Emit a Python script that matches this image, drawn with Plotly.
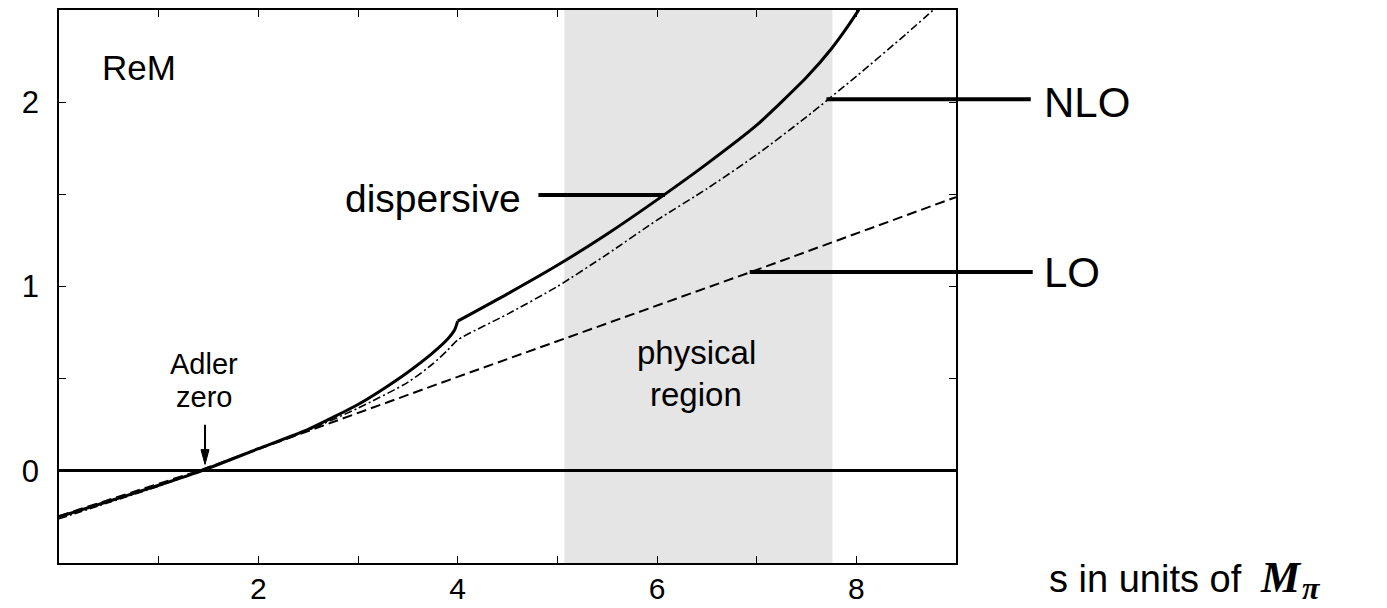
import plotly.graph_objects as go

# ---- data ----
s_disp_below = [0.0, 0.5, 1.0, 1.43, 2.0, 2.5, 3.0, 3.25, 3.5, 3.75, 3.9, 3.97, 4.0]
rem_disp_below = [-0.25, -0.165, -0.078, 0.0, 0.12, 0.225, 0.36, 0.443, 0.535, 0.64, 0.715, 0.765, 0.812]
s_disp_above = [4.0, 4.5, 5.0, 5.5, 6.0, 6.5, 7.0, 7.5, 7.75, 8.0, 8.1]
rem_disp_above = [0.812, 0.96, 1.115, 1.285, 1.47, 1.665, 1.875, 2.135, 2.29, 2.48, 2.57]

s_nlo = [0.0, 0.5, 1.0, 1.43, 2.0, 2.5, 3.0, 3.5, 3.75, 3.9, 4.0, 4.5, 5.0, 5.5, 6.0, 6.5, 7.0, 7.5, 8.0, 8.5, 9.0]
rem_nlo = [-0.26, -0.172, -0.083, 0.0, 0.12, 0.22, 0.34, 0.48, 0.58, 0.655, 0.71, 0.85, 1.0, 1.175, 1.36, 1.53, 1.715, 1.92, 2.14, 2.37, 2.61]

s_lo = [0.0, 1.4, 4.0, 7.0, 9.0]
rem_lo = [-0.245, 0.0, 0.51, 1.09, 1.485]

phys_region = [5.07, 7.76]
adler_zero_s = 1.465

x_tickvals = [2, 4, 6, 8]
x_ticktext = ["2", "4", "6", "8"]
x_minor_tickvals = [1, 3, 5, 7]
y_tickvals = [0, 1, 2]
y_ticktext = ["0", "1", "2"]
y_minor_tickvals = [0.5, 1.5]

XR = [0, 9]
YR = [-0.5, 2.5]
FONT = "Liberation Sans, Arial, sans-serif"
SERIF = "Liberation Serif, DejaVu Serif, serif"

# plot box in pixels (margins)
ML, MR, MT, MB, W, H = 59, 431, 10, 45, 1387, 608
PW, PH = W - ML - MR, H - MT - MB


def px_x(v):
    return (v - XR[0]) / (XR[1] - XR[0])


def px_y(v):
    return (v - YR[0]) / (YR[1] - YR[0])


def pap_x(px):
    return (px - ML) / PW


def pap_y(py):
    return (H - MB - py) / PH


fig = go.Figure()

fig.add_trace(go.Scatter(x=s_lo, y=rem_lo, mode="lines",
                         line=dict(color="black", width=2, dash="10px,5px"),
                         showlegend=False))
fig.add_trace(go.Scatter(x=s_nlo, y=rem_nlo, mode="lines", line_shape="spline",
                         line=dict(color="black", width=1.6, dash="8px,3px,2px,3px", smoothing=0.6),
                         showlegend=False))
fig.add_trace(go.Scatter(x=s_disp_below, y=rem_disp_below, mode="lines", line_shape="spline",
                         line=dict(color="black", width=3, smoothing=0.6), showlegend=False))
fig.add_trace(go.Scatter(x=s_disp_above, y=rem_disp_above, mode="lines", line_shape="spline",
                         line=dict(color="black", width=3, smoothing=0.6), showlegend=False))

# physical region
fig.add_shape(type="rect", xref="x", yref="y", x0=phys_region[0], x1=phys_region[1],
              y0=YR[0], y1=YR[1], fillcolor="#e5e5e5", line=dict(width=0), layer="below")

# label lines (paper coords so they can leave the plot box)
label_lines = [
    (4.81, 6.08, 1.497),
    (7.70, 9.75, 2.016),
    (6.93, 9.77, 1.078),
]
for x0, x1, yv in label_lines:
    fig.add_shape(type="line", xref="paper", yref="paper",
                  x0=px_x(x0), x1=px_x(x1), y0=px_y(yv), y1=px_y(yv),
                  line=dict(color="black", width=4))

# Adler-zero arrow: shaft + head
fig.add_shape(type="line", xref="x", yref="y", x0=adler_zero_s, x1=adler_zero_s,
              y0=0.25, y1=0.10, line=dict(color="black", width=2))
hw = 0.04
fig.add_shape(type="path", xref="x", yref="y",
              path=f"M {adler_zero_s - hw} 0.115 L {adler_zero_s + hw} 0.115 L {adler_zero_s} 0.035 Z",
              fillcolor="black", line=dict(color="black", width=1))


def txt(x, y, text, size, xanchor="center", xref="x", yref="y", family=FONT):
    fig.add_annotation(x=x, y=y, xref=xref, yref=yref, text=text, showarrow=False,
                       xanchor=xanchor, yanchor="middle",
                       font=dict(family=family, size=size, color="black"))


txt(0.80, 2.19, "ReM", 35)
txt(4.66, 1.48, "dispersive", 39, xanchor="right")
txt(1.455, 0.578, "Adler", 29)
txt(1.455, 0.403, "zero", 29)
txt(6.40, 0.643, "physical", 33)
txt(6.39, 0.415, "region", 33)
txt(pap_x(1042), pap_y(102), "NLO", 42, xanchor="left", xref="paper", yref="paper")
txt(pap_x(1042), pap_y(272), "LO", 42, xanchor="left", xref="paper", yref="paper")
txt(pap_x(1047), pap_y(579), "s in units of", 38, xanchor="left", xref="paper", yref="paper")
txt(pap_x(1258), pap_y(577), "<b><i>M</i></b>", 44, xanchor="left", xref="paper", yref="paper",
    family=SERIF)
txt(pap_x(1300), pap_y(588), "<b><i>π</i></b>", 32, xanchor="left", xref="paper", yref="paper",
    family=SERIF)

fig.update_xaxes(range=XR, tickmode="array", tickvals=x_tickvals, ticktext=x_ticktext,
                 ticks="inside", ticklen=7, tickwidth=1.3, tickcolor="black",
                 minor=dict(tickmode="array", tickvals=x_minor_tickvals, ticks="inside",
                            ticklen=7, tickwidth=1.3, tickcolor="black", showgrid=False),
                 showline=True, linecolor="black", linewidth=1.5, mirror="ticks",
                 showgrid=False, zeroline=False, automargin=False, ticklabelstandoff=-2,
                 tickfont=dict(family=FONT, size=30, color="black"))
fig.update_yaxes(range=YR, tickmode="array", tickvals=y_tickvals, ticktext=y_ticktext,
                 ticks="inside", ticklen=7, tickwidth=1.3, tickcolor="black",
                 minor=dict(tickmode="array", tickvals=y_minor_tickvals, ticks="inside",
                            ticklen=7, tickwidth=1.3, tickcolor="black", showgrid=False),
                 showline=True, linecolor="black", linewidth=1.5, mirror="ticks",
                 showgrid=False, zeroline=True, zerolinecolor="black", zerolinewidth=3,
                 automargin=False, ticklabelstandoff=12,
                 tickfont=dict(family=FONT, size=31, color="black"))

fig.update_layout(width=W, height=H, margin=dict(l=ML, r=MR, t=MT, b=MB, autoexpand=False),
                  plot_bgcolor="white", paper_bgcolor="white", showlegend=False)

fig.write_html("out.html")
